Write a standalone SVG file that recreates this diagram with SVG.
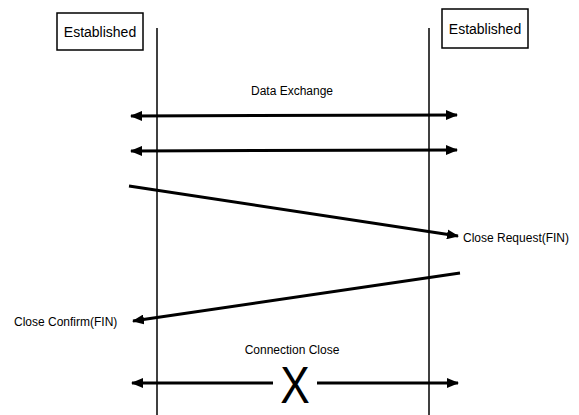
<svg xmlns="http://www.w3.org/2000/svg" width="579" height="415" viewBox="0 0 579 415">
<style>
text{font-family:"Liberation Sans",Arial,sans-serif;fill:#000}
.lbl{font-size:12px}
.box{fill:#fff;stroke:#000;stroke-width:1.5}
.life{stroke:#000;stroke-width:1.5;fill:none}
.msg{stroke:#000;stroke-width:3;fill:none}
</style>
<defs>
<marker id="ah" viewBox="0 0 12 10" refX="11" refY="5" markerWidth="12" markerHeight="10" markerUnits="userSpaceOnUse" orient="auto-start-reverse">
<path d="M0,0 L12,5 L0,10 Z" fill="#000"/>
</marker>
</defs>
<g id="lifelines">
<line class="life" x1="157" y1="28" x2="157" y2="415"/>
<line class="life" x1="429" y1="28" x2="429" y2="415"/>
</g>
<g id="nodeA">
<rect class="box" x="57" y="13" width="86" height="37"/>
<text x="100" y="37" font-size="14" text-anchor="middle">Established</text>
</g>
<g id="nodeB">
<rect class="box" x="442" y="9" width="86" height="39"/>
<text x="485" y="34" font-size="14" text-anchor="middle">Established</text>
</g>
<g id="connectors">
<line class="msg" x1="131" y1="116" x2="457" y2="115" marker-start="url(#ah)" marker-end="url(#ah)"/>
<line class="msg" x1="131" y1="151" x2="457" y2="150" marker-start="url(#ah)" marker-end="url(#ah)"/>
<line class="msg" x1="129" y1="186" x2="458" y2="236" marker-end="url(#ah)"/>
<line class="msg" x1="460" y1="273" x2="133" y2="321" marker-end="url(#ah)"/>
<line class="msg" x1="273" y1="383" x2="132" y2="383" marker-end="url(#ah)"/>
<line class="msg" x1="317" y1="383" x2="458" y2="383" marker-end="url(#ah)"/>
</g>
<g id="labels">
<text class="lbl" x="292" y="354" text-anchor="middle">Connection Close</text>
<text class="lbl" x="292" y="95" text-anchor="middle">Data Exchange</text>
<text class="lbl" x="463" y="242">Close Request(FIN)</text>
<text class="lbl" x="14" y="326">Close Confirm(FIN)</text>
<text x="0" y="0" font-size="52" text-anchor="middle" transform="translate(295 403) scale(0.85 1)">X</text>
</g>
</svg>
